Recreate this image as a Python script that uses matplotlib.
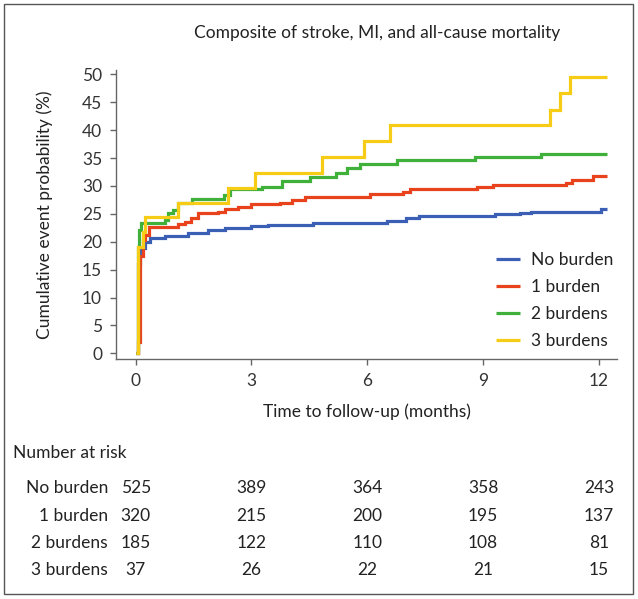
import matplotlib
matplotlib.use("Agg")
import matplotlib.pyplot as plt

plt.rcParams['font.family'] = ['Lato', 'DejaVu Sans']

W, H = 638, 599
DPI = 100

# ---- data ----
groups = ["No burden", "1 burden", "2 burdens", "3 burdens"]
colors = ["#3a5fb5", "#e9431d", "#3fb03a", "#f6cc17"]

t_none = [0, 0.05, 0.10, 0.24, 0.37, 0.76, 1.36, 1.88, 2.31, 3.00, 3.44, 4.60, 6.50, 7.00, 7.35, 9.30, 9.95, 10.25, 12.05, 12.2]
v_none = [0, 16.0, 18.8, 20.0, 20.6, 21.0, 21.5, 22.1, 22.5, 22.8, 23.0, 23.3, 23.8, 24.3, 24.6, 24.9, 25.1, 25.4, 25.8, 25.8]

t_one = [0, 0.07, 0.10, 0.20, 0.25, 0.35, 1.10, 1.27, 1.44, 1.62, 2.14, 2.31, 2.66, 3.00, 3.74, 4.04, 4.38, 6.07, 6.93, 7.10, 8.83, 9.26, 11.16, 11.30, 11.85, 12.2]
v_one = [0, 2.0, 17.5, 20.3, 21.2, 22.7, 23.2, 23.6, 24.2, 25.1, 25.4, 25.8, 26.3, 26.7, 27.0, 27.5, 28.0, 28.5, 28.9, 29.4, 29.8, 30.2, 30.6, 31.1, 31.8, 31.8]

t_two = [0, 0.05, 0.08, 0.15, 0.76, 0.85, 0.97, 1.10, 1.45, 2.30, 2.45, 3.26, 3.78, 4.52, 5.20, 5.47, 5.81, 6.76, 8.78, 10.50, 12.2]
v_two = [0, 19.0, 22.1, 23.3, 23.9, 25.1, 25.7, 27.0, 27.6, 28.4, 29.4, 29.8, 30.9, 31.6, 32.4, 33.2, 34.0, 34.6, 35.2, 35.7, 35.7]

t_three = [0, 0.05, 0.07, 0.20, 0.25, 1.10, 2.40, 3.09, 4.82, 5.92, 6.59, 10.73, 10.99, 11.25, 12.2]
v_three = [0, 3.0, 19.1, 21.8, 24.4, 27.0, 29.7, 32.4, 35.2, 38.1, 40.9, 43.7, 46.6, 49.5, 49.5]

series_t = [t_none, t_one, t_two, t_three]
series_v = [v_none, v_one, v_two, v_three]

risk_times = [0, 3, 6, 9, 12]
risk_none = [525, 389, 364, 358, 243]
risk_one = [320, 215, 200, 195, 137]
risk_two = [185, 122, 110, 108, 81]
risk_three = [37, 26, 22, 21, 15]
risk_rows = [risk_none, risk_one, risk_two, risk_three]

xticks = [0, 3, 6, 9, 12]
yticks = list(range(0, 55, 5))

# ---- figure ----
fig = plt.figure(figsize=(W / DPI, H / DPI), dpi=DPI)

def fx(px):
    return px / W

def fy(py):
    return 1 - py / H

# outer border
fig.patches.append(plt.Rectangle((fx(4), fy(594)), fx(629), 590 / H,
                                 transform=fig.transFigure, fill=False,
                                 edgecolor="#555555", linewidth=1.0))

ax = fig.add_axes([fx(116), fy(359.3), fx(617 - 116), (359.3 - 70) / H])

for tt, vv, c, g in zip(series_t, series_v, colors, groups):
    ax.step(tt, vv, where="post", color=c, linewidth=2.3, label=g,
            solid_joinstyle="miter", solid_capstyle="butt")

ax.set_xlim(-0.51, 12.47)
ax.set_ylim(-1.08, 50.8)
ax.set_xticks(xticks)
ax.set_yticks(yticks)
for s in ["top", "right"]:
    ax.spines[s].set_visible(False)
for s in ["left", "bottom"]:
    ax.spines[s].set_color("#666666")
    ax.spines[s].set_linewidth(1.0)
ax.tick_params(axis="both", direction="out", length=4, width=1.0,
               color="#666666", labelsize=12.5, labelcolor="#333333", pad=6)

ax.set_xlabel("Time to follow-up (months)", fontsize=12.5, color="#222222", labelpad=10)
ax.set_ylabel("Cumulative event probability (%)", fontsize=12.5, color="#222222", labelpad=21)

fig.text(fx(377), fy(33), "Composite of stroke, MI, and all-cause mortality",
         ha="center", va="center", fontsize=12.5, color="#222222")

leg = ax.legend(loc="upper left", bbox_to_anchor=(fx(496), fy(252)),
                bbox_transform=fig.transFigure, frameon=False, fontsize=12.5,
                handlelength=1.4, handletextpad=0.6, labelspacing=0.64,
                borderpad=0, borderaxespad=0)
for txt in leg.get_texts():
    txt.set_color("#222222")

# number at risk table
fig.text(fx(13), fy(453), "Number at risk", ha="left", va="center",
         fontsize=12.5, color="#222222")
row_y = [488, 516, 543, 570]
trans = matplotlib.transforms.blended_transform_factory(ax.transData, fig.transFigure)
for g, row, yy in zip(groups, risk_rows, row_y):
    fig.text(fx(108), fy(yy), g, ha="right", va="center", fontsize=12.5, color="#222222")
    for tx, n in zip(risk_times, row):
        fig.text(tx, fy(yy), str(n), ha="center", va="center", fontsize=12.5,
                 color="#222222", transform=trans)

fig.savefig("out.png", dpi=DPI)
